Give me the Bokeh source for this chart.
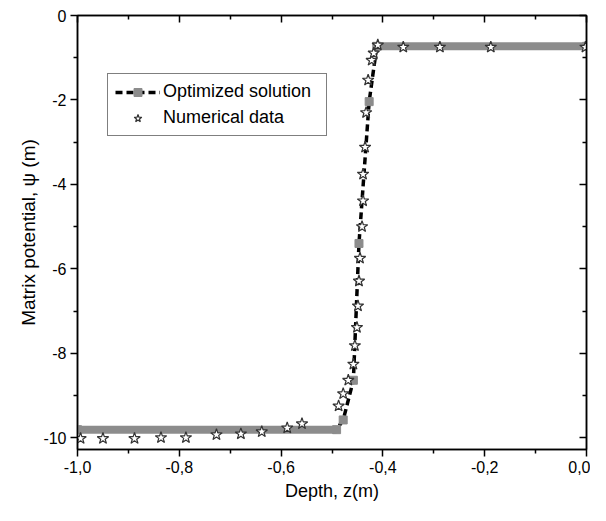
from bokeh.plotting import figure
from bokeh.models import (LinearAxis, Range1d, FixedTicker, Legend, LegendItem)
from bokeh.embed import file_html
from bokeh.resources import INLINE

# Optimized solution (line + square markers)
opt_depth = [-1.0, -0.491, -0.478, -0.458, -0.447, -0.427, -0.412, 0.0]
opt_psi = [-9.81, -9.81, -9.58, -8.64, -5.40, -2.04, -0.73, -0.73]

# Numerical data (stars)
num_depth = [-0.994, -0.950, -0.888, -0.836, -0.787, -0.727, -0.679, -0.638, -0.588, -0.559,
             -0.487, -0.478, -0.468, -0.458, -0.455, -0.451, -0.449, -0.447, -0.445, -0.441,
             -0.439, -0.439, -0.435, -0.433, -0.429, -0.422, -0.418, -0.410,
             -0.360, -0.288, -0.188, -0.002]
num_psi = [-10.02, -10.02, -10.02, -10.00, -10.00, -9.93, -9.91, -9.86, -9.77, -9.67,
           -9.25, -8.96, -8.64, -8.26, -7.82, -7.39, -6.88, -6.29, -5.75, -5.00,
           -4.39, -3.76, -3.12, -2.30, -1.53, -1.06, -0.89, -0.70,
           -0.75, -0.75, -0.75, -0.75]

x_ticks = [-1.0, -0.8, -0.6, -0.4, -0.2, 0.0]
x_tick_labels = ["-1,0", "-0,8", "-0,6", "-0,4", "-0,2", "0,0"]
x_minor = [-0.9, -0.7, -0.5, -0.3, -0.1]
y_ticks = [0, -2, -4, -6, -8, -10]
y_tick_labels = ["0", "-2", "-4", "-6", "-8", "-10"]
y_minor = [-1, -3, -5, -7, -9]

FONT = "Liberation Sans"

p = figure(width=590, height=505, output_backend="svg", toolbar_location=None,
           x_range=Range1d(-1.0, 0.0), y_range=Range1d(-10.28, 0.0),
           x_axis_label="Depth, z(m)", y_axis_label="Matrix potential, \u03c8 (m)",
           min_border_left=77, min_border_right=4, min_border_top=15, min_border_bottom=56)
p.grid.visible = False
p.outline_line_color = "black"
p.outline_line_width = 1.5
p.background_fill_color = "white"
p.border_fill_color = "white"

# black dashed line through the solution
ln = p.line(opt_depth, opt_psi, line_color="black", line_width=3.5, line_dash="7 4")
# gray band on the plateaus (dense squares)
p.line(opt_depth[:2], opt_psi[:2], line_color="#8c8c8c", line_width=8)
p.line(opt_depth[-2:], opt_psi[-2:], line_color="#8c8c8c", line_width=8)
sq = p.scatter(opt_depth, opt_psi, marker="square", size=8, fill_color="#8c8c8c", line_color="#8c8c8c")
st = p.scatter(num_depth, num_psi, marker="star", size=12, fill_color="white", line_color="#333333", line_width=1.2)

def style_axis(ax, ticks, minor, labels):
    ax.ticker = FixedTicker(ticks=ticks, minor_ticks=minor)
    ax.axis_line_width = 1.5
    ax.major_tick_line_width = 1.5
    ax.minor_tick_line_width = 1.5
    ax.major_tick_out = 7
    ax.major_tick_in = 0
    ax.minor_tick_out = 4
    ax.minor_tick_in = 0
    ax.major_label_text_font = FONT
    ax.major_label_text_font_size = "16px"
    ax.major_label_text_color = "black"
    ax.axis_label_text_font = FONT
    ax.axis_label_text_font_size = "18px"
    ax.axis_label_text_font_style = "normal"
    ax.axis_label_text_color = "black"
    ax.major_label_overrides = {t: l for t, l in zip(ticks, labels)}

style_axis(p.xaxis[0], x_ticks, x_minor, x_tick_labels)
style_axis(p.yaxis[0], y_ticks, y_minor, y_tick_labels)
p.xaxis[0].major_label_standoff = 4
p.xaxis[0].axis_label_standoff = 5
p.yaxis[0].major_label_standoff = 4
p.yaxis[0].axis_label_standoff = 1
p.yaxis[0].axis_label_text_font_size = "19px"

for side in ("above", "right"):
    ax = LinearAxis()
    ax.ticker = FixedTicker(ticks=x_ticks if side == "above" else y_ticks,
                            minor_ticks=x_minor if side == "above" else y_minor)
    ax.axis_line_width = 1.5
    ax.major_tick_line_width = 1.5
    ax.minor_tick_line_width = 1.5
    ax.major_tick_in = 7
    ax.major_tick_out = 0
    ax.minor_tick_in = 4
    ax.minor_tick_out = 0
    ax.major_label_text_font_size = "1px"
    ax.major_label_text_color = None
    ax.major_label_standoff = 0
    p.add_layout(ax, side)

legend = Legend(items=[LegendItem(label="Optimized solution", renderers=[ln, sq]),
                       LegendItem(label="Numerical data", renderers=[st])],
                location=(30, 313))
legend.label_text_font = FONT
legend.label_text_font_size = "18px"
legend.label_text_color = "black"
legend.border_line_color = "black"
legend.border_line_width = 1
legend.glyph_width = 45
legend.glyph_height = 20
legend.label_height = 20
legend.label_width = 156
legend.label_standoff = 3
legend.spacing = 5
legend.padding = 7
legend.margin = 0
p.add_layout(legend, "center")

open("out.html", "w").write(file_html(p, INLINE))
